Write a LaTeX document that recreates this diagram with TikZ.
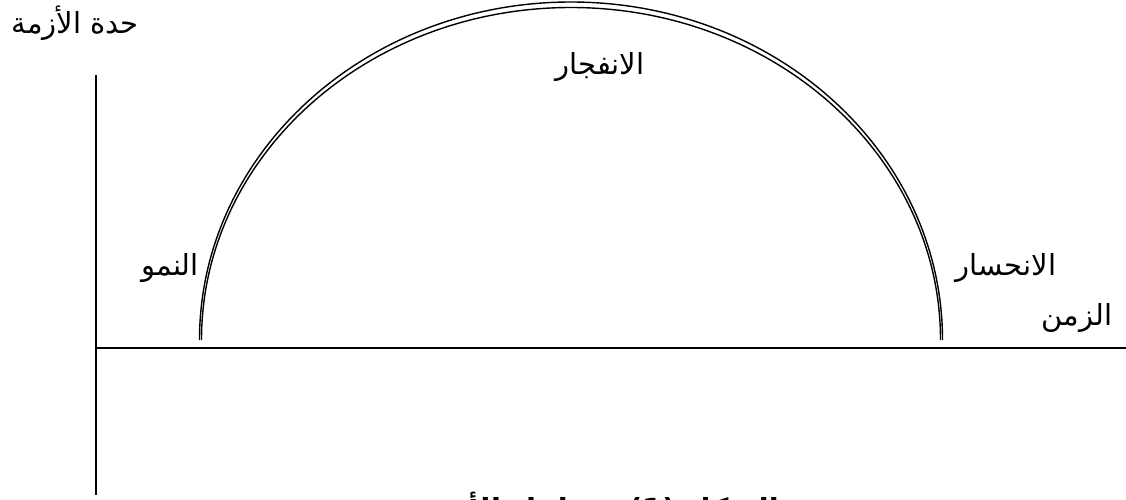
\documentclass[tikz,border=0pt]{standalone}
\usepackage{fontspec}
\TeXXeTstate=1
\newfontfamily\arabicfont[Script=Arabic]{DejaVu Sans}
\tikzset{
  lbl/.style={font=\arabicfont\fontsize{29}{32}\selectfont, inner sep=0pt},
  axis/.style={line width=1.8pt, black},
  curve/.style={line width=1.4pt, black}
}
\begin{document}
\begin{tikzpicture}[x=1pt,y=-1pt]
\useasboundingbox (0,0) rectangle (1126,500);
\clip (0,0) rectangle (1126,500);
% axes
\coordinate (vtop) at (96,75);
\coordinate (vbot) at (96,495);
\coordinate (hl) at (97,348);
\coordinate (hr) at (1126,348);
\draw[axis] (vtop) -- (vbot);
\draw[axis] (hl) -- (hr);
% arcs
\coordinate (aL) at (199.5,340);
\coordinate (bL) at (201.5,340);
\draw[curve] (aL) arc[start angle=180, end angle=360, x radius=371.5, y radius=338];
\draw[curve] (bL) arc[start angle=180, end angle=360, x radius=369.5, y radius=332.5];
% labels
\node[lbl, anchor=east] (sev) at (139,23) {\beginR حدة الأزمة\endR};
\node[lbl] (expl) at (600,67) {\beginR الانفجار\endR};
\node[lbl] (grow) at (170,268) {\beginR النمو\endR};
\node[lbl] (decl) at (1006,268) {\beginR الانحسار\endR};
\node[lbl] (time) at (1077,318) {\beginR الزمن\endR};
\node[lbl, anchor=north, font=\arabicfont\bfseries\fontsize{29}{32}\selectfont] (cap) at (598,492) {\beginR الشكل (1): مراحل الأزمة\endR};
\end{tikzpicture}
\end{document}
